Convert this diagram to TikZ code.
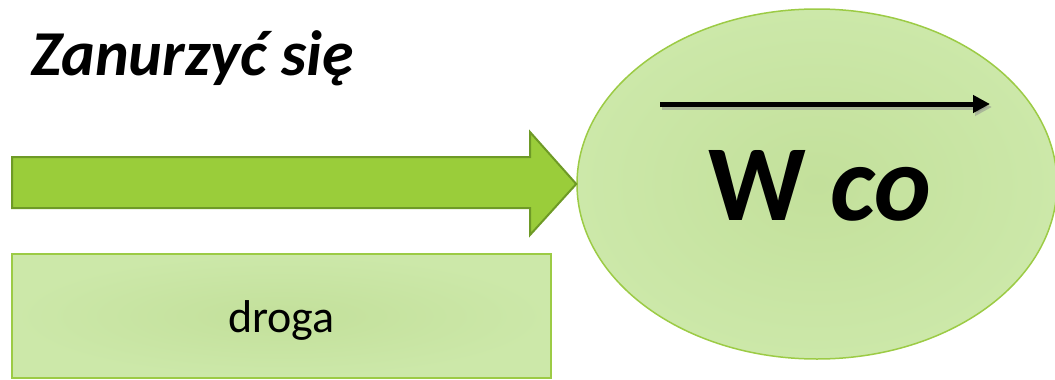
\documentclass[tikz,border=0pt]{standalone}
\usepackage{fontspec}
\setmainfont{Carlito}
\usetikzlibrary{shapes.geometric,arrows.meta}

\definecolor{lightgreen}{HTML}{CCE8A9}
\definecolor{midgreen}{HTML}{C3E09B}
\definecolor{edgegreen}{HTML}{9CCB45}
\definecolor{arrowgreen}{HTML}{9ACD3A}
\definecolor{arrowedge}{HTML}{6E9A26}

\tikzset{
    softfill/.style={inner color=midgreen, outer color=lightgreen, draw=edgegreen, line width=1.5pt},
}

\begin{document}
\begin{tikzpicture}[x=1pt, y=-1pt]
    \useasboundingbox (0,0) rectangle (1055,380);

    \node[anchor=base west, inner sep=0pt, font=\fontsize{64}{68}\selectfont\bfseries\itshape]
        (title) at (31,75) {Zanurzyć się};

    \node[ellipse, softfill, minimum width=480pt, minimum height=350pt, inner sep=0pt]
        (goal) at (817,184) {};

    \node[rectangle, softfill, minimum width=539pt, minimum height=124pt, inner sep=0pt]
        (road) at (281.5,316) {};
    \node[anchor=base, inner sep=0pt, font=\fontsize{46}{50}\selectfont]
        (roadtext) at (road.center |- 0,332) {droga};

    % block arrow into the ellipse
    \coordinate (tip) at (goal.west);
    \fill[arrowgreen, draw=arrowedge, line width=2pt, line join=miter]
        (12,157) -- (530,157) -- (530,132) -- (tip) -- (530,235)
        -- (530,208) -- (12,208) -- cycle;

    % arrow over the text
    \coordinate (a) at (660,104);
    \coordinate (b) at (990,104);
    \draw[black!45, opacity=0.5, line width=5pt, -{Triangle[length=17pt,width=17pt]}]
        ([shift={(2,3)}]a) -- ([shift={(2,3)}]b);
    \draw[black, line width=5pt, -{Triangle[length=17pt,width=17pt]}] (a) -- (b);

    \node[anchor=base, inner sep=0pt, font=\fontsize{108}{110}\selectfont\bfseries]
        (label) at (820,220) {W \textit{co}};
\end{tikzpicture}
\end{document}
